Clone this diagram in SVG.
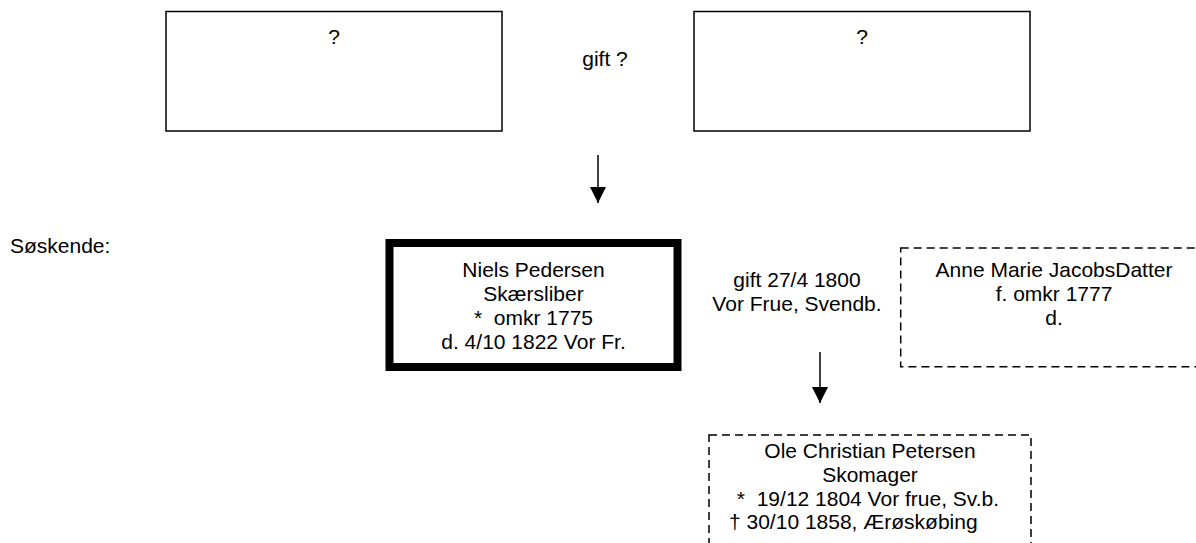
<svg xmlns="http://www.w3.org/2000/svg" width="1196" height="543" viewBox="0 0 1196 543">
<style>
text{font-family:"Liberation Sans",Arial,sans-serif;font-size:21px;fill:#000;white-space:pre}
.c{text-anchor:middle}
.box{fill:#fff;stroke:#000;stroke-width:1.5}
.thick{fill:#fff;stroke:#000;stroke-width:8}
.dash{fill:#fff;stroke:#000;stroke-width:1.5;stroke-dasharray:8 5}
.conn{stroke:#000;stroke-width:1.5;fill:none}
</style>
<defs>
<marker id="ah" markerUnits="userSpaceOnUse" markerWidth="16" markerHeight="16" refX="16" refY="8" orient="auto">
<path d="M0,0 L16,8 L0,16 Z" fill="#000"/>
</marker>
</defs>
<rect width="1196" height="543" fill="#fff"/>
<g id="father">
<rect class="box" x="166" y="11.5" width="336" height="119.5"/>
<text class="c" x="334" y="44">?</text>
</g>
<g id="mother">
<rect class="box" x="694" y="11.5" width="336" height="119.5"/>
<text class="c" x="862" y="44">?</text>
</g>
<g id="label-gift-parents">
<text class="c" x="605" y="66">gift ?</text>
</g>
<g id="siblings-label">
<text x="10" y="253">Søskende:</text>
</g>
<g id="niels">
<rect class="thick" x="389.5" y="243" width="288" height="124"/>
<text class="c" x="533.5" y="277">Niels Pedersen</text>
<text class="c" x="533.5" y="301">Skærsliber</text>
<text class="c" x="533.5" y="325">*  omkr 1775</text>
<text class="c" x="533.5" y="349">d. 4/10 1822 Vor Fr.</text>
</g>
<g id="label-gift-1800">
<text class="c" x="797" y="287">gift 27/4 1800</text>
<text class="c" x="797" y="311">Vor Frue, Svendb.</text>
</g>
<g id="anne">
<rect class="dash" x="900.7" y="248" width="306" height="118.7"/>
<text class="c" x="1054" y="277">Anne Marie JacobsDatter</text>
<text class="c" x="1054" y="301">f. omkr 1777</text>
<text class="c" x="1054" y="325">d.</text>
</g>
<g id="ole">
<rect class="dash" x="709" y="435" width="322" height="130"/>
<text class="c" x="870" y="458">Ole Christian Petersen</text>
<text class="c" x="870" y="482">Skomager</text>
<text class="c" x="868" y="506">*  19/12 1804 Vor frue, Sv.b.</text>
<text x="729" y="529">† 30/10 1858, Ærøskøbing</text>
</g>
<g id="connectors">
<line class="conn" x1="598" y1="155" x2="598" y2="203" marker-end="url(#ah)"/>
<line class="conn" x1="820" y1="352" x2="820" y2="403" marker-end="url(#ah)"/>
</g>
</svg>
